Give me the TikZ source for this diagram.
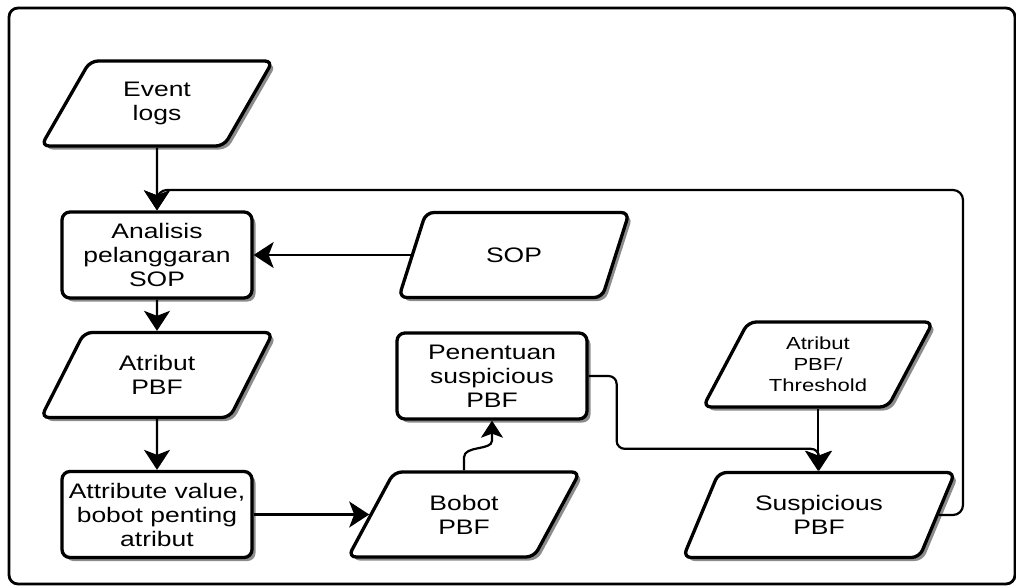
\documentclass[tikz,border=0pt]{standalone}
\usepackage{fontspec}
\setmainfont{Liberation Sans}[FakeStretch=1.26]
\usetikzlibrary{shapes.geometric,arrows.meta,shadows,calc}

\begin{document}
\begin{tikzpicture}[x=1pt,y=-1pt,
  every node/.style={font=\fontsize{21}{24}\selectfont, align=center, inner sep=0pt},
  boxshadow/.style={drop shadow={shadow xshift=3.5pt,shadow yshift=-3.5pt,fill=black!45,opacity=1}},
  procbox/.style={draw, line width=3.3pt, rounded corners=8pt, fill=white,
    minimum width=190pt, minimum height=86pt, boxshadow},
  iobox/.style={trapezium, trapezium left angle=60, trapezium right angle=120,
    trapezium stretches=true, draw, line width=3.3pt, rounded corners=8pt, fill=white,
    minimum width=232pt, minimum height=85pt, boxshadow},
  flow/.style={line width=2.2pt, -{Stealth[length=20pt,width=26pt,inset=5pt]}},
  flowsmall/.style={line width=2.2pt, -{Stealth[length=17pt,width=22pt,inset=4pt]}}
]
\useasboundingbox (0,0) rectangle (1016,586);

% outer frame
\draw[line width=2.8pt, rounded corners=9pt] (9,8) rectangle (1015,584);

% left column
\node[iobox] (ev) at (157,103.5) {Event\\logs};
\node[procbox] (an) at (157,255) {Analisis\\pelanggaran\\SOP};
\node[iobox] (ap) at (157,375) {Atribut\\PBF};
\node[procbox] (av) at (157,514.5) {Attribute value,\\bobot penting\\atribut};

% middle column
\node[iobox] (sop) at (514,255) {SOP};
\node[procbox] (pe) at (492,376) {Penentuan\\suspicious\\PBF};
\node[iobox] (bb) at (464,514.5) {Bobot\\PBF};

% right column
\node[iobox, minimum width=230pt, font=\fontsize{17.5}{21}\selectfont] (th) at (818,364.5) {Atribut\\PBF/\\Threshold};
\node[iobox, minimum width=272pt] (su) at (819,515) {Suspicious\\PBF};

\coordinate (loop) at (963,190);

% connectors
\draw[flow] (ev.south) -- (an.north);
\draw[flow] (sop.west) -- (sop.west -| an.east);
\draw[flow] (an.south) -- (ap.north);
\draw[flow] (ap.south) -- (av.north);
\draw[flow] (av.east) -- (av.east -| bb.west);
\draw[flowsmall] (bb.north) -- ($(bb.north)+(0,-13)$)
  .. controls ($(bb.north)+(0,-25)$) and ($(pe.south)+(0,30)$) .. ($(pe.south)+(0,20)$)
  -- (pe.south);
\draw[flow, rounded corners=8pt] (pe.east) -- ++(28,0) |- ($(su.north)+(0,-22)$) -- (su.north);
\draw[flow] (th.south) -- (th.south |- su.north);
\draw[flow, rounded corners=10pt] (su.east) -| (loop) -| (an.north);
\end{tikzpicture}
\end{document}
